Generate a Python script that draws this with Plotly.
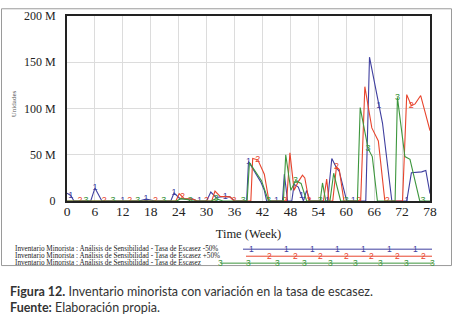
import plotly.graph_objects as go

# ---------------- data (values in millions of units) ----------------
weeks_1 = [0, 0.8, 1.5, 5.1, 6, 7.5, 12, 15.5, 17, 19, 22.3, 23, 24.3, 27, 28, 28.5, 30, 30.9, 32, 34, 35, 36,
           38.6, 39, 40.4, 41.7, 42.4, 42.9, 45, 46.3, 46.7, 47.4, 48.3, 48.8, 49.7, 50.4, 50.8, 51.5, 52.2,
           56, 56.9, 57.9, 58.5, 60.1, 61.5, 64.2, 65, 67, 67.8, 69.8, 73, 74, 76.2, 77.1, 78]
values_1 = [8.5, 6, 0, 0, 14, 0, 0, 0, 2, 0, 0, 8.6, 2.5, 2, 0, 0, 0, 9.7, 3.8, 5, 4.5, 0,
            0, 42.7, 30.5, 20, 11.5, 0, 0, 0, 29, 0, 0, 18, 15, 6, 0, 11.5, 0,
            0, 46, 36, 32, 0, 0, 0, 155.5, 103, 84, 0, 0, 30.5, 31.5, 33, 8]
labels_at_1 = [0.8, 6, 12, 17, 23, 28.5, 34, 39, 45, 50.4, 56, 61.5, 67, 73]

weeks_2 = [0, 2.8, 8, 13.5, 19, 23.4, 24.1, 24.8, 25.2, 27, 28, 30, 31.1, 31.8, 32.9, 35, 35.7, 35.9,
           39.5, 39.9, 41, 42.4, 43.4, 46.8, 47.2, 47.9, 48.8, 49.7, 50.6, 51.1, 52, 55.1, 55.8, 56.3,
           57.1, 57.9, 58.5, 59.5, 62.7, 63.1, 64, 65.5, 66.9, 68.3, 68.8, 72.1, 73, 74, 74.8, 76, 78]
values_2 = [0, 0, 0, 0, 0, 0, 8, 4.5, 2.6, 2, 0, 0, 0, 10.7, 5, 4.5, 0, 0,
            0, 46, 44.5, 29, 0, 0, 0, 52, 11.5, 21, 28, 25, 0, 0, 23.6, 0,
            0, 37, 34, 0, 0, 0, 123.6, 79, 65, 0, 0, 0, 115, 103, 105, 114, 76]
labels_at_2 = [2.8, 8, 13.5, 19, 24.8, 30, 35.9, 41, 46.8, 52, 57.9, 62.7, 68.8, 74]

weeks_3 = [0, 4.1, 9.9, 15.2, 20.8, 23.5, 24.5, 26, 26.5, 31, 32, 33.5, 37.9, 38.7, 39.2, 40.4, 41.8, 43.3,
           46.5, 47, 48.1, 49.1, 50.3, 51.5, 54.4, 54.9, 55.6, 56.5, 57.3, 58.8, 60, 62.4, 63, 64.7,
           65.6, 66.7, 70.5, 71, 72.6, 73.7, 75.8, 76.5, 78]
values_3 = [0, 0, 0, 0, 0, 0, 2.5, 1.5, 0, 0, 2.5, 0, 0, 0, 41.5, 32, 22, 0,
            0, 50, 11.5, 22, 19, 0, 0, 19.5, 0, 0, 30, 0, 0, 0, 101, 56.6,
            48, 0, 0, 112, 48, 45, 0, 0, 0]
labels_at_3 = [4.1, 9.9, 15.2, 20.8, 26.5, 32, 37.9, 43.3, 49.1, 54.4, 60, 64.7, 71, 76.5]

series_names = [
    "Inventario Minorista : Análisis de Sensibilidad - Tasa de Escasez -50%",
    "Inventario Minorista : Análisis de Sensibilidad - Tasa de Escasez +50%",
    "Inventario Minorista : Análisis de Sensibilidad - Tasa de Escasez",
]
series_tags = ["1", "2", "3"]
y_tick_values = [0, 50, 100, 150, 200]
y_tick_labels = ["0", "50 M", "100 M", "150 M", "200 M"]
x_tick_values = list(range(0, 79, 6))

colors = ["#3f3f9f", "#e8442c", "#3d963d"]

# ---------------- layout helpers ----------------
W, H = 454, 324
L, R, T, B = 67, 24, 9, 123
PW, PH = W - L - R, H - T - B


def px(x):
    return (x - L) / PW


def py(y):
    return (T + PH - y) / PH


fig = go.Figure()

all_series = [(weeks_1, values_1, labels_at_1), (weeks_2, values_2, labels_at_2), (weeks_3, values_3, labels_at_3)]
for i, (wk, vals, labs) in enumerate(all_series):
    assert len(wk) == len(vals)
    txt = [series_tags[i] if w in labs else "" for w in wk]
    fig.add_trace(go.Scatter(
        x=wk, y=vals, mode="lines+text", text=txt, textposition="middle center",
        textfont=dict(family="Liberation Sans", size=9, color=colors[i]),
        line=dict(color=colors[i], width=1.1), name=series_names[i], showlegend=False,
        cliponaxis=False,
    ))

fig.update_layout(
    width=W, height=H, margin=dict(l=L, r=R, t=T, b=B, pad=0),
    paper_bgcolor="white", plot_bgcolor="white",
    font=dict(family="Liberation Serif", color="#222"),
    showlegend=False,
    xaxis=dict(range=[0, 78], tickvals=x_tick_values, showgrid=True, gridcolor="#dcdcdc", gridwidth=1,
               zeroline=False, showline=True, mirror=True, linecolor="#222", linewidth=2,
               ticks="", ticklabelstandoff=-3,
               tickfont=dict(family="Liberation Serif", size=13.5, color="#222"),
               title=dict(text="Time (Week)", standoff=11,
                          font=dict(family="Liberation Serif", size=12.5, color="#222"))),
    yaxis=dict(range=[0, 200], tickvals=y_tick_values, ticktext=y_tick_labels, showgrid=True,
               gridcolor="#dcdcdc", gridwidth=1, zeroline=False, showline=True, mirror=True,
               linecolor="#222", linewidth=2, ticks="outside", ticklen=7, tickcolor="rgba(0,0,0,0)",
               tickfont=dict(family="Liberation Serif", size=12, color="#222")),
)

shapes = []
annotations = []
DY = 3.5  # small vertical correction for text placement
# outer frame
shapes.append(dict(type="rect", xref="paper", yref="paper", x0=px(1.5), x1=px(451.5), y0=py(268), y1=py(1.5),
                   line=dict(color="#9a9a9a", width=1), layer="below"))
# y-axis title
annotations.append(dict(xref="paper", yref="paper", x=px(7.5), y=py(100), text="Unidades", showarrow=False,
                        textangle=-90, font=dict(family="Liberation Serif", size=7, color="#555")))

# legend rows
legend_rows = [
    (247.5, 243, 432, [251.7, 286.7, 312.3, 337.7, 363.3, 389.3, 415]),
    (254.8, 246, 432, [269.3, 295, 320.7, 346, 371.7, 397.3, 423.3]),
    (262.0, 220.5, 433, [220.7, 248, 277, 304, 330, 355, 380.5, 406.7, 432.3]),
]
for i, (yy, x0, x1, marks) in enumerate(legend_rows):
    yy = yy + DY
    annotations.append(dict(xref="paper", yref="paper", x=px(12.5), y=py(yy), xanchor="left", yanchor="middle",
                            text=series_names[i], showarrow=False,
                            font=dict(family="Liberation Serif", size=7.2, color="#222")))
    shapes.append(dict(type="line", xref="paper", yref="paper", x0=px(x0), x1=px(x1), y0=py(yy), y1=py(yy),
                       line=dict(color=colors[i], width=1)))
    for m in marks:
        annotations.append(dict(xref="paper", yref="paper", x=px(m), y=py(yy), xanchor="center", yanchor="middle",
                                text=series_tags[i], showarrow=False,
                                font=dict(family="Liberation Sans", size=8.5, color=colors[i])))

# caption
annotations.append(dict(xref="paper", yref="paper", x=px(8), y=py(291 + DY), xanchor="left", yanchor="middle",
                        text="<b>Figura 12.</b> Inventario minorista con variación en la tasa de escasez.",
                        showarrow=False, font=dict(family="Lato", size=12.5, color="#333")))
annotations.append(dict(xref="paper", yref="paper", x=px(8), y=py(308 + DY), xanchor="left", yanchor="middle",
                        text="<b>Fuente:</b> Elaboración propia.",
                        showarrow=False, font=dict(family="Lato", size=12.5, color="#333")))

fig.update_layout(shapes=shapes, annotations=annotations)

fig.write_html("out.html", config={"displayModeBar": False},
               post_script="document.body.style.margin='0';document.body.style.overflow='hidden';")
